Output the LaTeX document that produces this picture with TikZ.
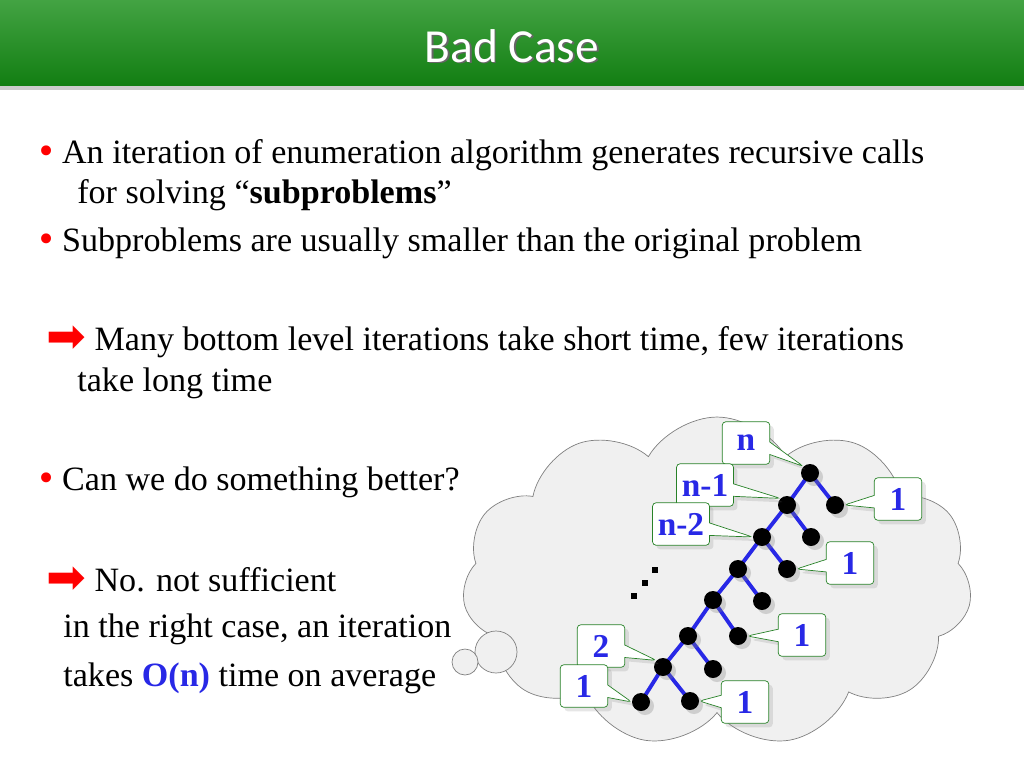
\documentclass[tikz,border=0pt]{standalone}
\usepackage{fontspec}
\setmainfont{Liberation Serif}
\newfontfamily\titlefont{Carlito}
\newfontfamily\symfont{DejaVu Sans}
\usetikzlibrary{shapes.symbols,shapes.callouts,shadows}
\definecolor{hdgreen}{RGB}{20,140,20}
\definecolor{treeblue}{RGB}{40,40,230}
\definecolor{boxgreen}{RGB}{40,130,40}
\tikzset{
  txt/.style={anchor=west,inner sep=0pt,font=\fontsize{19.4}{22}\selectfont},
  dot/.style={circle,fill=black,inner sep=0pt,minimum size=0.36cm,drop shadow={opacity=0.3}},
  edge/.style={draw=treeblue,line width=2.2pt},
  lbl/.style={rectangle callout,draw=boxgreen,fill=white,rounded corners=2pt,
    text=treeblue,font=\bfseries\fontsize{19}{20}\selectfont,inner sep=3pt,
    minimum width=0.95cm,minimum height=0.85cm,drop shadow={opacity=0.2}},
}
\newcommand{\bul}{{\color{red}\symfont\char"2022}}
\newcommand{\rarr}{{\color{red}\symfont\fontsize{27}{22}\selectfont\raisebox{-1pt}{\char"27A1}}}
\begin{document}
\begin{tikzpicture}[x=0.02cm,y=-0.02cm]
\useasboundingbox (0,0) rectangle (1024,768);
% header
\shade[top color=hdgreen!80!white,bottom color=hdgreen!90!black] (0,0) rectangle (1024,86);
\fill[gray!40] (0,86) rectangle (1024,90);
\node[black!60,font=\titlefont\fontsize{27}{30}\selectfont] at (513.5,47.5) {Bad Case};
\node[white,font=\titlefont\fontsize{27}{30}\selectfont] (title) at (512,46) {Bad Case};
% text
\node[txt] (l1) at (36,155) {\bul\,An iteration of enumeration algorithm generates recursive calls};
\node[txt] (l2) at (77,195) {for solving ``\textbf{subproblems}''};
\node[txt] (l3) at (36,243) {\bul\,Subproblems are usually smaller than the original problem};
\node[txt] (l4) at (46,342) {\rarr\ Many bottom level iterations take short time, few iterations};
\node[txt] (l5) at (77,383) {take long time};
\node[txt] (l6) at (36,482) {\bul\,Can we do something better?};
\node[txt] (l7) at (46,580) {\rarr\ No. not sufficient};
\node[txt] (l8) at (63,629) {in the right case, an iteration};
\node[txt] (l9) at (63,678) {takes {\color{treeblue}\textbf{O(n)}} time on average};
% cloud
\node[cloud,cloud puffs=11,cloud puff arc=120,aspect=1.6,draw=gray,fill=gray!12,
  minimum width=10.2cm,minimum height=6.6cm] (cl) at (717,582) {};
\draw[gray,fill=gray!12] (496,652) circle (0.42cm);
\draw[gray,fill=gray!12] (465,662) circle (0.26cm);
% tree
\foreach \i/\x/\y in {1/810/473,2/787/505,3/762/537,4/738/569,5/713/600,6/688/636,7/663/667,8/641/702}
  \coordinate (s\i) at (\x,\y);
\foreach \i/\x/\y in {1/835/505,2/811/537,3/787/569,4/762/601,5/738/636,6/713/669,7/690/701}
  \coordinate (c\i) at (\x,\y);
\foreach \i [evaluate=\i as \j using int(\i+1)] in {1,...,7} {
  \draw[edge] (s\i) -- (s\j);
  \draw[edge] (s\i) -- (c\i);
}
\foreach \i in {1,...,8} \node[dot] (ds\i) at (s\i) {};
\foreach \i in {1,...,7} \node[dot] (dc\i) at (c\i) {};
\foreach \p in {(634,596),(645,583),(655,570)} \fill[black] \p ++(-3,-3) rectangle ++(6,6);
% labels
\node[lbl,callout absolute pointer={(ds1.north west)}] (ln) at (746,443) {n};
\node[lbl,callout absolute pointer={(ds2.north west)}] (ln1) at (705,485) {n-1};
\node[lbl,callout absolute pointer={(ds3.west)}] (ln2) at (681,524) {n-2};
\node[lbl,callout absolute pointer={(dc1.east)}] (la) at (898,499) {1};
\node[lbl,callout absolute pointer={(dc3.east)}] (lb) at (850,563) {1};
\node[lbl,callout absolute pointer={(dc5.east)}] (lc) at (802,635) {1};
\node[lbl,callout absolute pointer={(dc7.east)}] (ld) at (745,702) {1};
\node[lbl,callout absolute pointer={(ds7.north west)}] (l2b) at (601,646) {2};
\node[lbl,callout absolute pointer={(ds8.west)}] (l1b) at (584,686) {1};
\end{tikzpicture}
\end{document}
